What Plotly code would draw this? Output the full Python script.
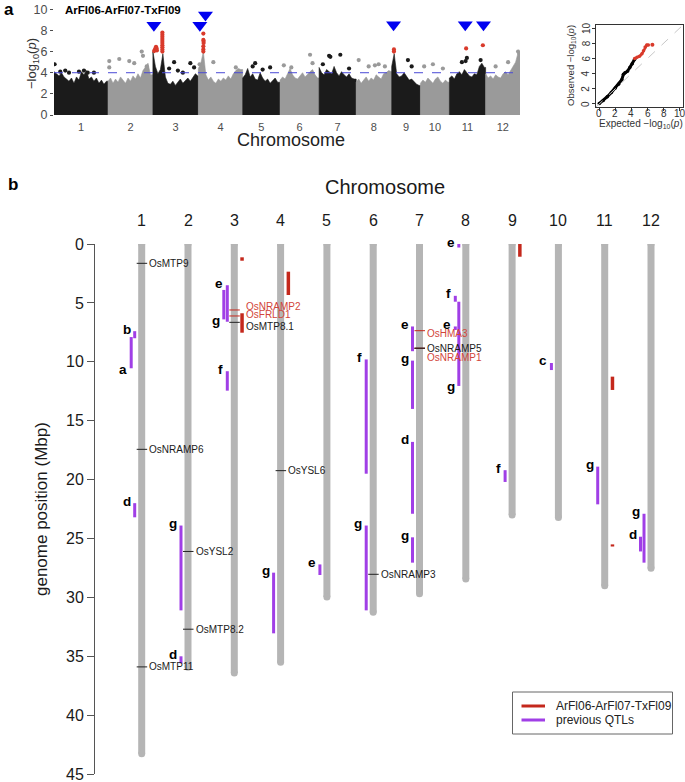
import plotly.graph_objects as go

W, H = 685, 782
def xp(v): return v / W
def yp(v): return 1 - v / H

# ---------------- data ----------------
chrom_names = [str(i) for i in range(1, 13)]
chrom_len = [43.27, 35.94, 36.41, 35.50, 29.96, 31.25, 29.70, 28.44, 23.01, 23.21, 29.02, 27.53]

# Manhattan: upper envelope of dense SNP cloud, every 2 Mbp from 0
env_1 = [4.1, 3.9, 3.7, 4.0, 3.6, 3.4, 3.2, 3.5, 3.0, 3.6, 3.3, 4.1, 3.8, 4.2, 3.4, 3.6, 3.2, 3.5, 3.0, 3.3, 2.9, 3.2]
env_2 = [3.2, 3.5, 3.0, 3.4, 3.1, 3.6, 3.3, 3.0, 3.5, 3.2, 3.7, 3.4, 3.9, 3.5, 4.2, 4.6, 4.9, 3.8]
env_3 = [6.0, 4.6, 3.9, 4.3, 5.8, 3.6, 3.0, 2.9, 3.2, 2.8, 3.1, 3.4, 3.0, 3.3, 3.5, 3.2, 3.6, 3.9, 3.7]
env_4 = [4.4, 4.9, 6.0, 3.8, 3.3, 3.6, 3.2, 3.0, 3.4, 3.2, 3.5, 3.3, 3.7, 3.4, 3.9, 4.2, 4.4, 4.3]
env_5 = [3.5, 3.8, 4.4, 3.6, 3.9, 3.4, 3.3, 4.0, 3.5, 3.2, 3.4, 3.0, 3.3, 3.5, 3.1]
env_6 = [3.3, 3.6, 3.4, 3.9, 4.4, 3.8, 3.5, 3.4, 3.7, 4.0, 3.6, 3.9, 4.1, 4.3, 3.8, 3.5]
env_7 = [4.5, 4.0, 3.8, 4.3, 4.1, 3.9, 4.6, 4.0, 3.7, 4.1, 3.8, 3.6, 3.9, 3.5, 3.4]
env_8 = [3.1, 3.4, 3.0, 3.3, 3.6, 3.2, 3.5, 3.3, 3.8, 3.6, 3.4, 3.9, 4.0, 4.2, 4.1]
env_9 = [4.6, 5.8, 3.9, 3.6, 3.7, 4.0, 3.6, 3.3, 3.4, 3.1, 2.9, 2.8]
env_10 = [3.0, 3.3, 3.1, 3.5, 3.2, 3.0, 3.4, 3.6, 3.2, 3.0, 3.3, 3.1]
env_11 = [3.5, 3.7, 3.4, 3.9, 4.1, 3.8, 4.3, 4.0, 3.7, 3.6, 3.9, 3.8, 4.6, 4.9, 4.5]
env_12 = [3.9, 3.5, 3.7, 3.4, 3.8, 3.6, 3.5, 3.9, 4.1, 3.8, 4.2, 4.5, 5.0, 5.9]
envelopes = [env_1, env_2, env_3, env_4, env_5, env_6, env_7, env_8, env_9, env_10, env_11, env_12]

# isolated SNPs above the cloud: (chromosome, Mbp, -log10 p)
snp_chr = [1, 1, 1, 1, 1, 1, 1, 1, 2, 2, 2, 2, 2, 2, 2, 2, 3, 3, 3, 3, 3, 3, 4, 4, 4,
           5, 5, 5, 5, 6, 6, 6, 6, 7, 7, 7, 7, 7, 8, 8, 8, 8, 8, 9, 9, 10, 10, 10,
           11, 11, 11, 11, 12, 12, 12, 12]
snp_pos = [0.5, 5, 9, 12, 20, 24, 27, 32, 1, 1, 9, 17, 21, 27, 28, 31, 13, 17, 20, 30, 33, 24, 1, 12, 30,
           8, 10, 22, 16, 3, 9, 24, 26, 3, 8, 9, 17, 24, 2, 10, 15, 18, 23, 13, 16, 3, 10, 18,
           10, 14, 13, 25, 8, 18, 26, 27]
snp_val = [4.8, 4.1, 4.2, 4.0, 4.1, 4.2, 4.0, 4.0, 5.1, 4.5, 5.3, 5.1, 4.9, 6.0, 5.6, 4.6, 4.4, 5.0, 4.2, 4.9, 4.5, 4.0, 4.8, 5.0, 4.5,
           4.6, 4.9, 4.5, 4.3, 4.7, 4.5, 5.7, 4.9, 4.8, 5.6, 5.5, 5.7, 4.4, 5.2, 4.6, 4.7, 4.8, 4.6, 5.2, 4.6, 4.6, 4.8, 4.4,
           5.0, 5.4, 5.1, 5.2, 4.6, 5.0, 6.0, 5.8]

# significant SNPs (red)
sig_chr = [3, 3, 3, 3, 3, 3, 3, 3, 3, 3, 3, 3, 3, 3, 3, 3, 4, 4, 4, 4, 4, 4, 4, 9, 9, 11, 11]
sig_pos = [1.0, 1.5, 2.0, 2.5, 3.0, 3.2, 7.6, 7.6, 7.6, 7.6, 7.6, 7.6, 7.6, 7.6, 7.6, 7.6,
           4.0, 4.0, 4.0, 4.2, 4.2, 4.0, 4.0, 1.8, 1.8, 13.4, 26.8]
sig_val = [6.05, 6.15, 6.3, 6.45, 6.3, 6.1, 6.0, 6.2, 6.4, 6.6, 6.8, 7.0, 7.2, 7.4, 7.6, 7.8,
           6.0, 6.2, 6.5, 6.8, 7.0, 7.1, 7.7, 6.0, 6.2, 6.3, 6.6]

# blue triangles marking loci
tri_chr = [3, 4, 4, 9, 11, 11]
tri_pos = [0.8, 1.2, 5.7, 1.5, 12.7, 27.3]
tri_val = [8.5, 8.5, 9.45, 8.55, 8.55, 8.55]

# QQ plot
qq_exp = [0.0, 0.5, 1.0, 1.5, 2.0, 2.4, 2.8, 3.0, 3.2, 3.5, 3.8, 4.1, 4.4]
qq_obs = [0.05, 0.45, 0.95, 1.5, 2.1, 2.6, 3.2, 3.9, 4.1, 4.3, 4.8, 5.3, 5.9]
qq_exp_sig = [4.4, 4.7, 5.0, 5.3, 5.5, 5.7, 5.9, 6.1]
qq_obs_sig = [6.0, 6.15, 6.3, 6.6, 7.0, 7.5, 7.75, 7.75]
qq_exp_top = [6.6]
qq_obs_top = [7.8]
qq_ticks = [0, 2, 4, 6, 8, 10]

# panel b: previous QTLs (chromosome, start, end, label, lane, label at)
qtl_chr = [1, 1, 1, 2, 2, 3, 3, 3, 4, 5, 6, 6, 7, 7, 7, 7, 8, 8, 8, 8, 9, 10, 11, 12, 12]
qtl_start = [7.4, 7.9, 22.0, 23.9, 35.0, 3.5, 3.9, 10.8, 27.9, 27.2, 9.8, 23.9, 7.0, 9.9, 16.8, 24.9,
             0.0, 4.4, 4.9, 7.0, 19.2, 10.1, 18.9, 22.9, 24.85]
qtl_end = [8.0, 10.55, 23.2, 31.1, 35.6, 6.6, 6.4, 12.45, 33.05, 28.1, 19.5, 31.1, 9.1, 14.0, 22.9, 27.05,
           0.3, 4.9, 12.05, 7.3, 20.2, 10.7, 22.1, 27.05, 26.1]
qtl_label = ['b', 'a', 'd', 'g', 'd', 'e', 'g', 'f', 'g', 'e', 'f', 'g', 'e', 'g', 'd', 'g',
             'e', 'f', 'g', 'e', 'f', 'c', 'g', 'g', 'd']
qtl_lane = [1, 2, 1, 1, 1, 1, 2, 1, 1, 1, 1, 1, 1, 1, 1, 1, 1, 2, 1, 2, 1, 1, 1, 1, 2]
qtl_label_at = ['top', 'bottom', 'top', 'top', 'top', 'top', 'bottom', 'top', 'top', 'top', 'top', 'top',
                'top', 'top', 'top', 'top', 'top', 'top', 'bottom', 'top', 'top', 'top', 'top', 'top', 'top']

# panel b: ArFl06-ArFl07-TxFl09 loci
loc_chr = [3, 3, 4, 9, 11, 11]
loc_start = [1.13, 5.88, 2.35, 0.0, 11.26, 25.5]
loc_end = [1.42, 7.53, 4.33, 1.08, 12.39, 25.68]

# candidate genes
gene_chr = [1, 1, 1, 2, 2, 3, 3, 3, 4, 6, 7, 7, 7]
gene_pos = [1.64, 17.43, 35.9, 26.1, 32.7, 5.6, 6.11, 6.65, 19.24, 28.04, 7.36, 8.85, 8.85]
gene_name = ['OsMTP9', 'OsNRAMP6', 'OsMTP11', 'OsYSL2', 'OsMTP8.2', 'OsNRAMP2', 'OsFRLD1', 'OsMTP8.1',
             'OsYSL6', 'OsNRAMP3', 'OsHMA3', 'OsNRAMP5', 'OsNRAMP1']
gene_hit = [False, False, False, False, False, True, True, False, False, False, True, False, True]

legend_names = ['ArFl06-ArFl07-TxFl09', 'previous QTLs']

# ---------------- styles ----------------
BLACK = '#1b1b1b'
GREY = '#9a9a9a'
RED_PT = '#d93a2b'
BLUE = '#0000f0'
CHR_GREY = '#b5b5b5'
PURPLE = '#a03fe6'
RED_BAR = '#c4281c'
RED_TXT = '#d2453a'
FONT = 'Liberation Sans, Arial, sans-serif'

cum = [0.0]
for L in chrom_len:
    cum.append(cum[-1] + L)
total = cum[-1]

fig = go.Figure()

# ---- Manhattan ----
for i, (L, env) in enumerate(zip(chrom_len, envelopes)):
    col = BLACK if i % 2 == 0 else GREY
    xs = [cum[i]] + [cum[i] + 2 * k for k in range(len(env))] + [cum[i] + L, cum[i] + L]
    ys = [0] + env + [env[-1], 0]
    fig.add_trace(go.Scatter(x=xs, y=ys, fill='toself', fillcolor=col, mode='lines',
                             line=dict(color=col, width=0.6), xaxis='x', yaxis='y',
                             hoverinfo='skip', showlegend=False))

fig.add_trace(go.Scatter(
    x=[cum[c - 1] + p for c, p in zip(snp_chr, snp_pos)], y=snp_val, mode='markers',
    marker=dict(size=4.2, color=[BLACK if (c % 2 == 1) else GREY for c in snp_chr]),
    xaxis='x', yaxis='y', showlegend=False, hoverinfo='skip'))
fig.add_trace(go.Scatter(
    x=[cum[c - 1] + p for c, p in zip(sig_chr, sig_pos)], y=sig_val, mode='markers',
    marker=dict(size=4.2, color=RED_PT), xaxis='x', yaxis='y', showlegend=False, hoverinfo='skip'))
fig.add_trace(go.Scatter(
    x=[cum[c - 1] + p for c, p in zip(tri_chr, tri_pos)], y=tri_val, mode='markers',
    marker=dict(size=13, color=BLUE, symbol='triangle-down'), cliponaxis=False,
    xaxis='x', yaxis='y', showlegend=False, hoverinfo='skip'))

shapes = []
shapes.append(dict(type='line', xref='x', yref='y', x0=0, x1=total, y0=4, y1=4,
                   line=dict(color='#4a4ad6', width=1, dash='dash')))

# ---- QQ ----
shapes.append(dict(type='line', xref='x2', yref='y2', x0=-0.4, y0=-0.4, x1=10.4, y1=10.4,
                   line=dict(color='#c8c8c8', width=1, dash='dash')))
fig.add_trace(go.Scatter(x=qq_exp, y=qq_obs, mode='lines+markers',
                         line=dict(color='black', width=3), marker=dict(size=3.5, color='black'),
                         xaxis='x2', yaxis='y2', showlegend=False, hoverinfo='skip'))
fig.add_trace(go.Scatter(x=qq_exp_sig, y=qq_obs_sig, mode='lines+markers',
                         line=dict(color=RED_PT, width=2.5), marker=dict(size=3.5, color=RED_PT),
                         xaxis='x2', yaxis='y2', showlegend=False, hoverinfo='skip'))
fig.add_trace(go.Scatter(x=qq_exp_top, y=qq_obs_top, mode='markers',
                         marker=dict(size=4, color=RED_PT),
                         xaxis='x2', yaxis='y2', showlegend=False, hoverinfo='skip'))

annotations = []
for t in qq_ticks:
    annotations.append(dict(x=t, y=yp(113.5), xref='x2', yref='paper', text=str(t), showarrow=False,
                            xanchor='center', yanchor='middle', font=dict(size=10, color='#333', family=FONT)))
    annotations.append(dict(x=xp(586), y=t, xref='paper', yref='y2', text=str(t), showarrow=False,
                            xanchor='center', yanchor='middle', textangle=-90,
                            font=dict(size=10, color='#333', family=FONT)))

# ---- panel b chromosomes ----
for i, L in enumerate(chrom_len):
    fig.add_trace(go.Scatter(x=[i + 1, i + 1], y=[0, L], mode='lines+markers',
                             line=dict(color=CHR_GREY, width=7),
                             marker=dict(size=7, color=CHR_GREY, line=dict(width=0)),
                             xaxis='x3', yaxis='y3', showlegend=False, hoverinfo='skip'))

LANE_OFF = {1: -7.0, 2: -10.5}
for c, s, e, lab, lane, at in zip(qtl_chr, qtl_start, qtl_end, qtl_label, qtl_lane, qtl_label_at):
    off = LANE_OFF[lane]
    shapes.append(dict(type='rect', xref='x3', yref='y3', xsizemode='pixel', xanchor=c,
                       x0=off - 1.5, x1=off + 1.5, y0=s, y1=e, fillcolor=PURPLE,
                       line=dict(width=0), layer='above'))
    annotations.append(dict(x=c, y=(s if at == 'top' else e), xref='x3', yref='y3',
                            xshift=off - 2, yshift=(2 if at == 'top' else -1),
                            text='<b>%s</b>' % lab, showarrow=False, xanchor='right', yanchor='middle',
                            font=dict(size=13.5, color='black', family=FONT)))

for c, s, e in zip(loc_chr, loc_start, loc_end):
    shapes.append(dict(type='rect', xref='x3', yref='y3', xsizemode='pixel', xanchor=c,
                       x0=6.0, x1=9.5, y0=s, y1=e, fillcolor=RED_BAR,
                       line=dict(width=0), layer='above'))

TXT_OFF = {3: 9.5}
LBL_SHIFT = {'OsNRAMP1': -9.5, 'OsHMA3': -3, 'OsNRAMP2': 3.5, 'OsFRLD1': 1, 'OsMTP8.1': -4}
for c, p, name, hit in zip(gene_chr, gene_pos, gene_name, gene_hit):
    col = RED_TXT if hit else '#1a1a1a'
    shapes.append(dict(type='line', xref='x3', yref='y3', xsizemode='pixel', xanchor=c,
                       x0=-5, x1=5.5, y0=p, y1=p,
                       line=dict(color=(RED_BAR if hit else '#222222'), width=1), layer='above'))
    annotations.append(dict(x=c, y=p, xref='x3', yref='y3', xshift=TXT_OFF.get(c, 5.5),
                            yshift=LBL_SHIFT.get(name, 0),
                            text=name, showarrow=False, xanchor='left', yanchor='middle',
                            font=dict(size=10, color=col, family=FONT)))
# redraw NRAMP5 tick in black on top
shapes.append(dict(type='line', xref='x3', yref='y3', xsizemode='pixel', xanchor=7,
                   x0=-5, x1=5.5, y0=8.85, y1=8.85, line=dict(color='#222222', width=1), layer='above'))

# chromosome numbers
for i, n in enumerate(chrom_names):
    annotations.append(dict(x=i + 1, y=yp(221), xref='x3', yref='paper', text=n, showarrow=False,
                            xanchor='center', yanchor='middle', font=dict(size=16, color='#1a1a1a', family=FONT)))

# ---- legend (manual) ----
shapes.append(dict(type='rect', xref='paper', yref='paper', x0=xp(512.5), x1=xp(672.5),
                   y0=yp(734), y1=yp(692), line=dict(color='#666666', width=1), fillcolor='white'))
for k, (nm, col) in enumerate(zip(legend_names, [RED_BAR, PURPLE])):
    yy = 706 + 14 * k
    shapes.append(dict(type='line', xref='paper', yref='paper', x0=xp(521.5), x1=xp(545),
                       y0=yp(yy), y1=yp(yy), line=dict(color=col, width=3)))
    annotations.append(dict(x=xp(553.5), y=yp(yy), xref='paper', yref='paper', text=nm,
                            showarrow=False, xanchor='left', yanchor='middle',
                            font=dict(size=12, color='#222222', family=FONT)))

# ---- text annotations ----
def ann(x, y, text, size, color='black', angle=0, xanchor='center', bold=False):
    annotations.append(dict(x=xp(x), y=yp(y), xref='paper', yref='paper',
                            text=('<b>%s</b>' % text) if bold else text, showarrow=False,
                            xanchor=xanchor, yanchor='middle', textangle=angle,
                            font=dict(size=size, color=color, family=FONT)))

ann(2, 9, 'a', 17, xanchor='left', bold=True)
ann(63, 10, 'ArFl06-ArFl07-TxFl09', 11.5, xanchor='left', bold=True)
ann(32, 63, '\u2212log<sub>10</sub>(<i>p</i>)', 13, color='#333333', angle=-90)
ann(291, 140, 'Chromosome', 18, color='#222222')
ann(571, 66, 'Observed \u2212log<sub>10</sub>(<i>p</i>)', 9.5, color='#333333', angle=-90)
ann(641, 124, 'Expected \u2212log<sub>10</sub>(<i>p</i>)', 10, color='#333333')
ann(6, 184, 'b', 17, xanchor='left', bold=True)
ann(385, 187, 'Chromosome', 20, color='#1a1a1a')
ann(41, 509, 'genome position (Mbp)', 17, color='#1a1a1a', angle=-90)

centers = [cum[i] + chrom_len[i] / 2 for i in range(12)]

fig.update_layout(
    template='none',
    width=W, height=H, margin=dict(l=0, r=0, t=0, b=0, pad=0),
    paper_bgcolor='white', plot_bgcolor='white', showlegend=False,
    font=dict(family=FONT),
    xaxis=dict(domain=[xp(54), xp(520)], range=[0, total], anchor='y', tickmode='array',
               tickvals=centers, ticktext=chrom_names, ticks='outside', ticklen=2, tickcolor='white',
               showgrid=False, zeroline=False, showline=False, automargin=False,
               tickfont=dict(size=11, color='#4d4d4d', family=FONT)),
    yaxis=dict(domain=[yp(115), yp(9.3)], range=[0, 10], anchor='x', tickmode='array',
               tickvals=[0, 2, 4, 6, 8, 10], ticks='outside', ticklen=3, tickcolor='#4d4d4d',
               showgrid=False, zeroline=False, showline=False, automargin=False,
               ticklabeloverflow='allow',
               tickfont=dict(size=12.5, color='#4d4d4d', family=FONT)),
    xaxis2=dict(domain=[xp(596), xp(683)], range=[-0.4, 10.4], anchor='y2', tickmode='array',
                tickvals=qq_ticks, ticks='outside', ticklen=3, tickcolor='#333', showticklabels=False,
                showline=True, mirror=True, linecolor='#333', linewidth=1, automargin=False,
                showgrid=False, zeroline=False),
    yaxis2=dict(domain=[yp(107), yp(25)], range=[-0.4, 10.4], anchor='x2', tickmode='array',
                tickvals=qq_ticks, ticks='outside', ticklen=3, tickcolor='#333', showticklabels=False,
                showline=True, mirror=True, linecolor='#333', linewidth=1, automargin=False,
                showgrid=False, zeroline=False),
    xaxis3=dict(domain=[xp(95), 1], range=[-0.0086, 12.734], anchor='y3', visible=False,
                showgrid=False, zeroline=False, automargin=False),
    yaxis3=dict(domain=[yp(774.1), yp(244)], range=[45, 0], anchor='x3', tickmode='array',
                tickvals=list(range(0, 46, 5)), ticks='outside', ticklen=7, tickcolor='#555',
                showline=True, linecolor='#555', linewidth=1, showgrid=False, zeroline=False,
                automargin=False, ticklabeloverflow='allow',
                tickfont=dict(size=16, color='#1a1a1a', family=FONT)),
    shapes=shapes, annotations=annotations,
)

fig.write_html('out.html', config={'displayModeBar': False, 'staticPlot': True},
               post_script="document.body.style.margin='0';document.body.style.overflow='hidden';")
